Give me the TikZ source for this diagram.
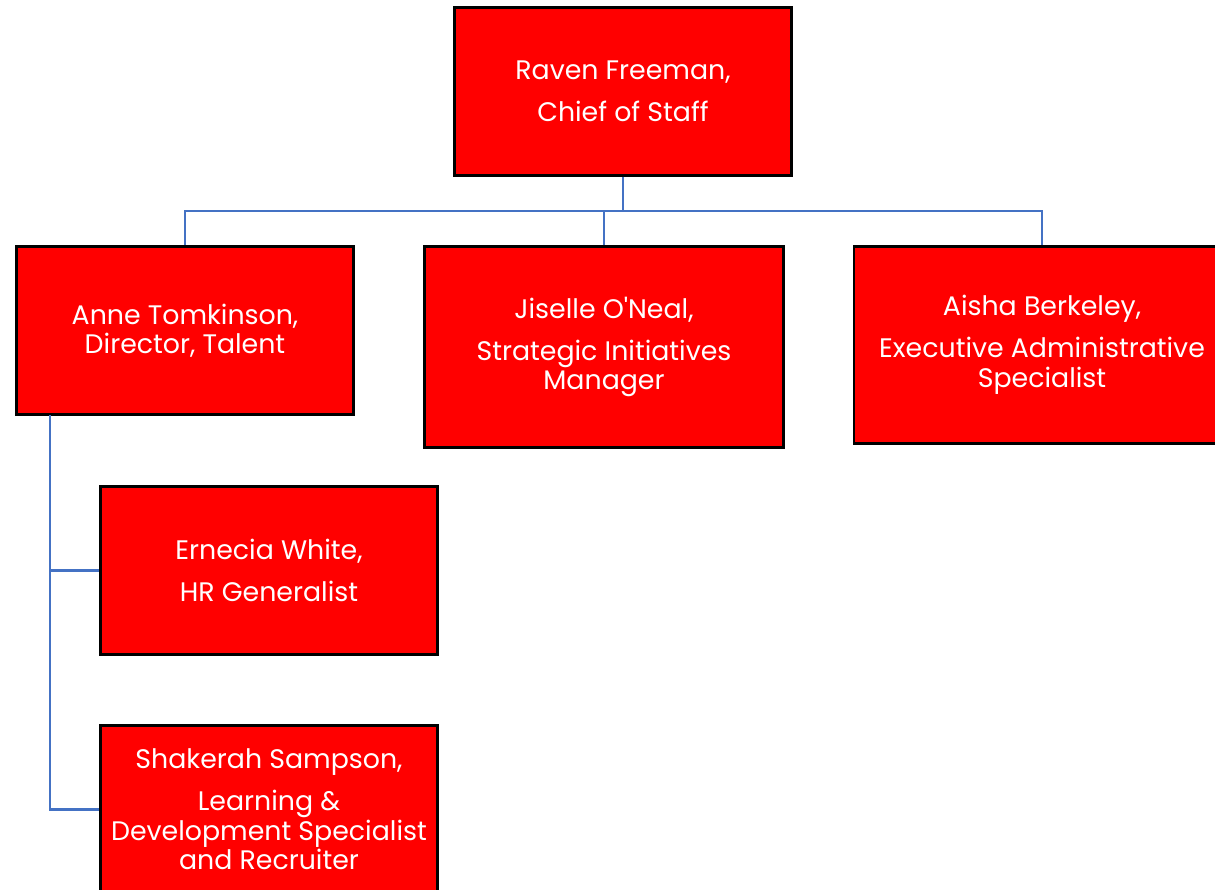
\documentclass[tikz,border=0pt]{standalone}
\usepackage{fontspec}
\setmainfont{Poppins}
\definecolor{linkblue}{RGB}{68,114,196}
\begin{document}
\begin{tikzpicture}[x=1pt,y=-1pt,
  box/.style={draw=black, line width=2.5pt, fill=red, text=white, align=center,
    inner sep=0pt, font=\fontsize{26.8}{29.5}\selectfont},
  conn/.style={draw=linkblue, line width=2.5pt}]
\useasboundingbox (0,0) rectangle (1215,890);
\clip (0,0) rectangle (1215,890);
\node[box, minimum width=337, minimum height=168] (raven) at (623,91.5) {Raven Freeman,\\[12.5pt]Chief of Staff};
\node[box, minimum width=337, minimum height=168] (anne) at (185,330.5) {Anne Tomkinson,\\Director, Talent};
\node[box, minimum width=359, minimum height=201] (jis) at (604,347) {Jiselle O\textquotesingle Neal,\\[12.5pt]Strategic Initiatives\\Manager};
\node[box, minimum width=376, minimum height=197] (aisha) at (1042,345) {Aisha Berkeley,\\[12.5pt]Executive Administrative\\Specialist};
\node[box, minimum width=337, minimum height=168] (ern) at (269,570.5) {Ernecia White,\\[12.5pt]HR Generalist};
\node[box, minimum width=337, minimum height=168] (sha) at (269,809.5) {Shakerah Sampson,\\[12.5pt]Learning \&\\Development Specialist\\and Recruiter};
\coordinate (bus) at (623,211);
\coordinate (spine) at (50,415);
\draw[conn] (raven.south) -- (bus);
\draw[conn] (bus) -| (anne.north);
\draw[conn] (bus) -| (jis.north);
\draw[conn] (bus) -| (aisha.north);
\draw[conn] (spine) |- (ern.west);
\draw[conn] (spine) |- (sha.west);
\end{tikzpicture}
\end{document}
